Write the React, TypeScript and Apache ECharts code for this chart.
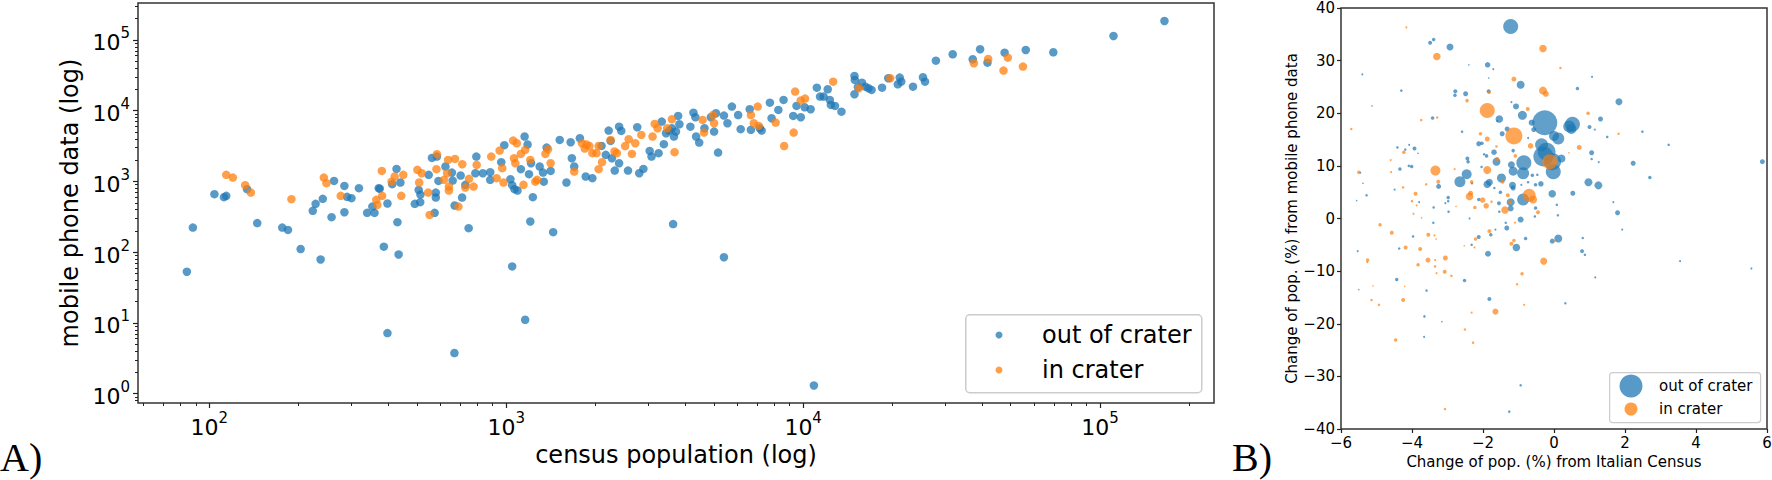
import React, { useEffect, useRef } from 'react';
import * as echarts from 'echarts';

const FONT = 'DejaVu Sans';
const BLUE = '#1f77b4';
const ORANGE = '#ff7f0e';
const LABEL_OUT = 'out of crater';
const LABEL_IN = 'in crater';

// Panel A: [census population, mobile phone data]
const aOut: number[][] = [
  [84, 53], [88, 223], [104, 662], [112, 600], [114, 627], [134, 778], [145, 258], [176, 223], [184, 207], [203, 111],
  [237, 79], [223, 385], [228, 483], [241, 568], [258, 313], [263, 1018], [285, 866], [285, 368], [291, 606], [301, 581],
  [319, 804], [340, 360], [354, 442], [360, 360], [372, 804], [375, 790], [387, 120], [398, 488], [398, 7.2], [413, 916],
  [427, 1507], [430, 266], [434, 93], [440, 966], [492, 483], [507, 760], [513, 510], [514, 653], [548, 1240], [579, 697],
  [579, 593], [574, 360], [591, 1018], [562, 2153], [584, 2249], [624, 1626], [656, 1336], [660, 1030], [670, 457], [669, 3.76],
  [702, 1213], [710, 593], [728, 896], [747, 219], [793, 2249], [787, 1309], [834, 1309], [883, 1353], [883, 1054], [962, 1875],
  [985, 3258], [1033, 1077], [1047, 887], [1047, 63], [1091, 745], [1066, 778], [1158, 11.1], [1153, 4315], [1180, 3327], [1193, 1268],
  [1205, 272], [1229, 600], [1120, 1493], [1212, 1811], [1296, 1626], [1330, 1336], [1338, 995], [1368, 3013], [1439, 192], [1411, 1412],
  [1514, 3872], [1595, 966], [1648, 3589], [1663, 2133], [1694, 1626], [1770, 4084], [1852, 1175], [1950, 1114],
  [2213, 5236], [2399, 5957], [2440, 5188], [2762, 5848], [2094, 3184], [2247, 3741], [2164, 2377], [2269, 2133], [2399, 1811], [2571, 1426],
  [2805, 1309], [2897, 1507], [3041, 2704], [3085, 2249], [3259, 2512], [3340, 7015], [3395, 3365], [3453, 4808], [3540, 5236], [3614, 5662],
  [3671, 4315], [3729, 5070], [3793, 8452], [3830, 6442], [4170, 5957], [4270, 9397], [4335, 8093], [4360, 4315], [4466, 3548], [4652, 5662],
  [5012, 5070], [4890, 8093], [5086, 9226], [5170, 2559], [5410, 8531], [5560, 6653], [5754, 11430], [6040, 8700], [6160, 5482], [6607, 10500],
  [6668, 5370], [7145, 5662], [7250, 5236], [7726, 13000], [7830, 7834], [8250, 10260], [8590, 14220], [9260, 8452], [9500, 11700], [9820, 8093],
  [10120, 11190], [10600, 10500], [11120, 21200], [11400, 15850], [11720, 15850], [12100, 20100], [12300, 14220], [12400, 12080], [12800, 11700], [13460, 9710],
  [14890, 31000], [14930, 27230], [14890, 17100], [15290, 21480], [15780, 24950], [16200, 21880], [16600, 20800], [17000, 19680], [18440, 21200], [19350, 28770],
  [21150, 29380], [20840, 23660], [21400, 25760], [23440, 21880], [25330, 29720], [25730, 25760], [28000, 51050], [31900, 62800], [37250, 53350], [39450, 73950],
  [41770, 47750], [47700, 66200], [56200, 72230], [69600, 67000], [111000, 113900], [164800, 185500], [3648, 250], [5410, 85], [10870, 1.31], [2320, 1426],
];

const aIn: number[][] = [
  [114, 1240], [120, 1135], [132, 887], [138, 697], [189, 562], [243, 1135], [248, 946], [277, 627], [381, 1412], [382, 627],
  [368, 467], [365, 550], [421, 1175], [411, 995], [443, 627], [450, 1240], [502, 1459], [509, 966], [519, 1309], [546, 697],
  [552, 337], [582, 1493], [584, 2430], [617, 1054], [637, 2018], [641, 847], [641, 745], [632, 1309], [672, 2083], [690, 442],
  [711, 1754], [728, 820], [749, 1089], [776, 847], [795, 1714], [890, 2249], [928, 1114], [950, 2735], [969, 1542], [979, 966],
  [1062, 2133], [1055, 3784], [1085, 3475], [1073, 1811], [1120, 2455], [1143, 896], [1158, 2793], [1205, 2018], [1253, 995], [1270, 1054],
  [1355, 2455], [1383, 2858], [1411, 1811], [1694, 1380], [1799, 3475], [1838, 2913], [1905, 3170], [1950, 2512],
  [1863, 3327], [2013, 2512], [2047, 3170], [2102, 1875], [2047, 1493], [2247, 3872], [2358, 2512], [2515, 3170], [2584, 3954], [2650, 2455],
  [2720, 3475], [2851, 4550], [2315, 2660],
  [3162, 6510], [3235, 5662], [3483, 5662], [3614, 7586], [3689, 2594], [3110, 4315], [4585, 7413], [4635, 4910], [4970, 8700], [5012, 6653],
  [6670, 8700], [6820, 6653], [7030, 11430], [7085, 6095], [8080, 6792], [8630, 3170], [9290, 4910], [9400, 18620], [9810, 13900], [10150, 14830],
  [12620, 25760], [15400, 20800], [19650, 28770], [37600, 46900], [42000, 53950], [47300, 36900], [48900, 56200], [55000, 42000],
];

// Panel B: [change from census %, change from phone data %, population weight]
const bOut: number[][] = [
  [-1.22, 36.5, 22500], [-2.93, 32.6, 4900], [-3.49, 33.4, 1600], [-3.39, 34.0, 1225], [-1.87, 29.2, 3025], [-2.40, 29.2, 225],
  [-1.71, 28.4, 400], [-5.40, 27.4, 400], [-1.84, 26.7, 225], [-0.94, 25.4, 6400], [1.07, 26.9, 400], [-2.78, 24.2, 1600],
  [-2.49, 23.7, 2500], [-2.79, 23.4, 1225], [-1.84, 24.2, 1600], [-4.30, 24.3, 625], [0.66, 24.7, 1225], [1.83, 22.2, 4900],
  [-6.0, 22.3, 225], [-5.13, 21.4, 225], [-1.20, 22.1, 400], [-1.07, 21.3, 3600], [-0.89, 19.6, 8100], [-1.54, 18.9, 5625],
  [-1.60, 18.5, 400], [-3.42, 19.1, 1225], [-0.26, 18.2, 62500], [0.52, 17.9, 22500], [0.43, 17.5, 14400], [0.49, 17.0, 10000],
  [1.31, 18.9, 2500], [1.0, 17.4, 1600], [1.15, 16.9, 400], [2.49, 16.5, 625], [-0.63, 18.2, 3600], [-1.32, 17.0, 2500],
  [-0.57, 16.9, 2500], [-2.59, 16.5, 625], [-1.46, 16.1, 2500], [0.0, 15.7, 10000], [0.12, 15.2, 14400], [1.50, 15.5, 625],
  [-0.73, 15.3, 400], [-4.41, 13.5, 625], [-4.19, 13.1, 625], [-4.08, 14.0, 400], [-3.93, 13.3, 1600], [-3.83, 12.4, 225],
  [-2.12, 14.2, 2500], [-2.03, 14.3, 1225], [-1.69, 12.6, 3025], [-1.15, 12.9, 1225], [-0.35, 14.0, 16900], [-0.21, 12.7, 32400],
  [-0.30, 11.8, 40000], [-0.04, 10.8, 28900], [-0.02, 8.9, 22500], [0.21, 11.4, 6400], [1.06, 12.5, 2500], [1.26, 10.7, 400],
  [1.06, 11.3, 625], [3.23, 14.0, 625], [5.87, 10.8, 2500], [2.23, 10.5, 2500], [2.70, 7.8, 1225], [-0.85, 10.6, 22500],
  [-1.20, 10.2, 4900], [-1.62, 10.8, 6400], [-1.90, 11.9, 1225], [-1.97, 12.2, 625], [-2.44, 11.4, 1600], [-2.42, 10.8, 1225],
  [-2.04, 9.8, 625], [-2.46, 8.4, 10000], [-2.65, 7.0, 12100], [-1.48, 7.7, 8100], [-1.15, 9.0, 8100], [-0.87, 8.6, 14400],
  [-1.17, 6.3, 4900], [-1.15, 5.8, 2500], [-0.61, 8.2, 1225], [-0.47, 8.3, 625], [-0.73, 6.9, 625], [-0.92, 6.4, 400],
  [-0.37, 6.6, 3025], [-0.52, 6.4, 1225], [0.97, 6.9, 6400], [1.25, 6.3, 6400], [-1.88, 6.5, 5625], [-1.82, 6.9, 4900],
  [-2.31, 6.7, 625], [-1.68, 5.8, 625], [-3.25, 6.1, 2500], [-0.05, 4.7, 5625], [0.53, 4.8, 2500], [-1.51, 5.0, 1225],
  [-0.87, 3.6, 14400], [-1.22, 3.1, 6400], [-1.22, 1.9, 3600], [-1.55, 2.9, 1600], [-2.12, 3.6, 1225], [-2.98, 4.0, 1225],
  [-2.98, 3.3, 625], [-3.06, 2.9, 400], [-3.80, 3.1, 400], [-3.39, 2.1, 625], [-2.97, 1.3, 625], [-1.54, 1.3, 625],
  [-0.52, 2.0, 1225], [0.08, 2.6, 625], [0.11, 0.6, 625], [-0.54, 0.4, 625], [-0.94, -0.2, 3600], [-1.36, -0.8, 625],
  [-1.33, -1.8, 2500], [-2.38, 0.0, 400], [-3.40, -0.8, 625], [-3.97, -3.4, 625], [1.79, 1.1, 2500], [1.67, 3.1, 400],
  [1.92, -2.1, 400], [-2.12, -3.5, 1600], [-1.78, -3.1, 1225], [-1.65, -2.1, 400], [-0.80, -3.8, 1225], [-0.05, -4.3, 2500],
  [0.12, -3.8, 6400], [-1.06, -5.5, 5625], [-2.32, -5.0, 625], [-4.36, -5.7, 625], [0.81, -3.7, 625], [0.79, -6.2, 1600],
  [0.87, -6.9, 625], [-1.86, -6.7, 3600], [-5.53, -6.2, 400], [-6.0, -4.7, 225], [3.55, -8.1, 400], [5.56, -9.5, 400],
  [1.16, -11.2, 400], [-4.43, -11.6, 1225], [-2.52, -11.8, 1225], [-5.50, -13.5, 225], [-3.59, -13.7, 625], [-1.82, -15.3, 1600],
  [0.32, -16.1, 625], [-3.65, -18.6, 625], [-3.16, -19.6, 225], [-3.66, -22.5, 400], [-0.94, -31.7, 625], [-1.26, -36.7, 625],
  [-6.0, 4.7, 225], [-5.28, 4.4, 625], [-5.38, 6.7, 225], [-5.46, 8.7, 400], [-4.49, 5.5, 400], [-4.34, 9.4, 1225],
  [-4.01, 9.9, 1225], [-4.09, 10.0, 625], [-5.56, 3.4, 225],
];

const bIn: number[][] = [
  [-4.16, 36.3, 400], [-3.30, 30.8, 5625], [-0.31, 32.3, 5625], [0.18, 28.6, 625], [-1.13, 26.5, 2500], [-0.31, 24.3, 6400],
  [-0.23, 23.7, 3600], [-1.83, 24.0, 1225], [-2.45, 22.4, 1225], [-1.88, 20.5, 22500], [-0.74, 20.8, 1600], [0.96, 20.0, 1225],
  [-3.74, 18.7, 625], [-3.29, 19.2, 625], [-5.71, 17.0, 625], [-1.13, 15.7, 28900], [-2.07, 16.1, 1225], [-1.88, 15.1, 2500],
  [1.82, 16.1, 625], [-0.66, 13.8, 3025], [-1.62, 13.7, 625], [0.71, 13.5, 2500], [0.42, 12.5, 225], [-4.23, 12.6, 1225],
  [-1.60, 11.3, 1600], [-1.09, 11.9, 1225], [-0.12, 10.8, 22500], [-4.60, 11.1, 400], [-5.50, 8.8, 1225], [-4.59, 8.8, 400],
  [-3.34, 9.1, 10000], [-1.88, 9.2, 6400], [-2.80, 9.4, 400], [-3.26, 7.0, 1600], [-2.32, 7.0, 1225], [-1.45, 7.0, 1600],
  [-3.60, 6.5, 625], [-4.25, 5.9, 625], [-3.90, 4.7, 1600], [-2.35, 4.8, 2500], [-2.38, 4.2, 5625], [-1.30, 4.4, 1600],
  [-0.70, 4.4, 16900], [-0.59, 3.6, 6400], [-2.01, 3.5, 3025], [-1.76, 3.2, 625], [-1.24, 3.1, 1600], [-4.00, 3.3, 625],
  [-3.87, 2.5, 400], [-2.76, 2.3, 225], [-2.23, 2.1, 1225], [-1.91, 2.4, 3025], [-1.38, 1.6, 5625], [-0.45, 1.2, 1600],
  [-3.96, 0.9, 400], [-3.73, 0.1, 225], [-1.10, -0.8, 400], [-4.90, -1.2, 1225], [-4.57, -2.7, 1600], [-3.54, -3.1, 1600],
  [-3.37, -3.2, 400], [-3.32, -3.9, 225], [-1.82, -2.4, 1600], [-2.21, -3.9, 1225], [-2.24, -5.5, 400], [-1.13, -4.2, 1225],
  [-1.20, -4.8, 1600], [0.0, -4.3, 400], [-2.53, -5.2, 225], [-4.18, -5.5, 1600], [-3.77, -5.8, 1600], [-3.06, -7.5, 2500],
  [-3.55, -7.9, 2500], [-3.35, -7.9, 400], [-0.29, -8.1, 4900], [-5.25, -7.9, 1225], [-5.26, -8.3, 400], [-3.83, -8.8, 1225],
  [-3.35, -9.1, 625], [-3.08, -10.1, 1600], [-3.31, -10.4, 400], [-2.89, -10.9, 625], [-0.90, -10.5, 1225], [-1.04, -12.5, 625],
  [-5.10, -12.8, 225], [-4.21, -12.9, 225], [-5.14, -15.5, 625], [-4.25, -15.5, 1600], [-4.93, -16.4, 625], [-0.84, -16.4, 400],
  [-1.65, -17.7, 3600], [-2.32, -17.9, 400], [-2.51, -21.1, 625], [-2.28, -23.6, 625], [-4.46, -23.1, 1225], [-3.07, -36.2, 625],
];

// Axis ticks
const aXMajor = [100, 1000, 10000, 100000];
const aYMajor = [1, 10, 100, 1000, 10000, 100000];
const aXRange = [57.5, 242000];
const aYRange = [0.74, 333000];
const bXRange = [-6, 6];
const bYRange = [-40, 40];

function minorTicks(lo: number, hi: number): number[] {
  const out: number[] = [];
  for (let d = 0.01; d <= 1e6; d *= 10) {
    for (let m = 2; m <= 9; m++) {
      const v = Math.round(d * m * 1000) / 1000;
      if (v > lo && v < hi) out.push(v);
    }
  }
  return out;
}

const pow10Label = (v: number) => {
  const e = Math.round(Math.log10(v));
  return `{b|10}{s|${e}}`;
};
const minusLabel = (v: number) => (v < 0 ? '\u2212' + Math.abs(v) : String(v));

const richA = {
  b: { fontSize: 22, fontFamily: FONT, color: '#000', lineHeight: 28, verticalAlign: 'bottom' },
  s: { fontSize: 15, fontFamily: FONT, color: '#000', lineHeight: 15, verticalAlign: 'top' },
};

const tickLine = { color: '#222', width: 1.2 };
const noLine = { show: false, onZero: false };

export default function App() {
  const ref = useRef<HTMLDivElement>(null);
  useEffect(() => {
    if (!ref.current) return;
    const chart = echarts.init(ref.current, null, { renderer: 'svg' });
    const option: any = {
      animation: false,
      backgroundColor: '#ffffff',
      grid: [
        { left: 138, top: 3, width: 1076, height: 400, show: true, borderColor: '#333', borderWidth: 1.5, backgroundColor: 'transparent', containLabel: false, outerBoundsMode: 'none' },
        { left: 1341, top: 8, width: 426, height: 421, show: true, borderColor: '#333', borderWidth: 1.5, backgroundColor: 'transparent', containLabel: false, outerBoundsMode: 'none' },
      ],
      xAxis: [
        {
          gridIndex: 0, type: 'log', logBase: 10, min: aXRange[0], max: aXRange[1], position: 'bottom',
          axisLine: noLine, splitLine: { show: false },
          axisTick: { show: true, length: 5, lineStyle: tickLine, customValues: aXMajor },
          axisLabel: { show: true, margin: 7, customValues: aXMajor, formatter: pow10Label, rich: richA },
          name: 'census population (log)', nameLocation: 'middle', nameGap: 40,
          nameTextStyle: { fontFamily: FONT, fontSize: 24, color: '#000' },
        },
        {
          gridIndex: 0, type: 'log', logBase: 10, min: aXRange[0], max: aXRange[1], position: 'bottom',
          axisLine: noLine, splitLine: { show: false }, axisLabel: { show: false },
          axisTick: { show: true, length: 3, lineStyle: { color: '#222', width: 1 }, customValues: minorTicks(aXRange[0], aXRange[1]) },
        },
        {
          gridIndex: 1, type: 'value', min: bXRange[0], max: bXRange[1], interval: 2, position: 'bottom',
          axisLine: noLine, splitLine: { show: false },
          axisTick: { show: true, length: 4, lineStyle: tickLine },
          axisLabel: { margin: 6, formatter: minusLabel, fontFamily: FONT, fontSize: 15, color: '#000' },
          name: 'Change of pop. (%) from Italian Census', nameLocation: 'middle', nameGap: 22,
          nameTextStyle: { fontFamily: FONT, fontSize: 15, color: '#000' },
        },
      ],
      yAxis: [
        {
          gridIndex: 0, type: 'log', logBase: 10, min: aYRange[0], max: aYRange[1], position: 'left',
          axisLine: noLine, splitLine: { show: false },
          axisTick: { show: true, length: 5, lineStyle: tickLine, customValues: aYMajor },
          axisLabel: { show: true, margin: 8, customValues: aYMajor, formatter: pow10Label, rich: richA },
          name: 'mobile phone data (log)', nameLocation: 'middle', nameGap: 54, nameRotate: 90,
          nameTextStyle: { fontFamily: FONT, fontSize: 24, color: '#000' },
        },
        {
          gridIndex: 0, type: 'log', logBase: 10, min: aYRange[0], max: aYRange[1], position: 'left',
          axisLine: noLine, splitLine: { show: false }, axisLabel: { show: false },
          axisTick: { show: true, length: 3, lineStyle: { color: '#222', width: 1 }, customValues: minorTicks(aYRange[0], aYRange[1]) },
        },
        {
          gridIndex: 1, type: 'value', min: bYRange[0], max: bYRange[1], interval: 10, position: 'left',
          axisLine: noLine, splitLine: { show: false },
          axisTick: { show: true, length: 4, lineStyle: tickLine },
          axisLabel: { margin: 6, formatter: minusLabel, fontFamily: FONT, fontSize: 15, lineHeight: 14, color: '#000' },
          name: 'Change of pop. (%) from mobile phone data', nameLocation: 'middle', nameGap: 40, nameRotate: 90,
          nameTextStyle: { fontFamily: FONT, fontSize: 15, color: '#000' },
        },
      ],
      legend: [
        {
          data: [LABEL_OUT, LABEL_IN], orient: 'vertical', left: 995.5, top: 321,
          padding: 0, itemGap: 7, itemWidth: 7, itemHeight: 7, icon: 'circle',
          textStyle: { fontFamily: FONT, fontSize: 24, color: '#000', lineHeight: 28, padding: [0, 0, 0, 34.5] },
          selectedMode: false,
        },
        {
          data: [LABEL_OUT], orient: 'vertical', left: 1619.5, top: 374.5, padding: 0,
          itemWidth: 23, itemHeight: 23, icon: 'circle',
          textStyle: { fontFamily: FONT, fontSize: 15, color: '#000', padding: [0, 0, 0, 11.5] },
          selectedMode: false,
        },
        {
          data: [LABEL_IN], orient: 'vertical', left: 1624.5, top: 401.5, padding: 0,
          itemWidth: 13, itemHeight: 13, icon: 'circle',
          textStyle: { fontFamily: FONT, fontSize: 15, color: '#000', padding: [0, 0, 0, 16.5] },
          selectedMode: false,
        },
      ],
      graphic: [
        { type: 'rect', left: 965, top: 314, shape: { width: 236, height: 78, r: 4 }, style: { fill: 'rgba(255,255,255,0.8)', stroke: '#cccccc', lineWidth: 1.5 }, z: 1 },
        { type: 'rect', left: 1609, top: 372, shape: { width: 151, height: 50, r: 3 }, style: { fill: 'rgba(255,255,255,0.8)', stroke: '#cccccc', lineWidth: 1.2 }, z: 1 },
        { type: 'text', left: 0, top: 437, style: { text: 'A)', font: '40px "Liberation Serif"', lineHeight: 40, fill: '#000' } },
        { type: 'text', left: 1232, top: 437, style: { text: 'B)', font: '40px "Liberation Serif"', lineHeight: 40, fill: '#000' } },
      ],
      series: [
        {
          name: LABEL_OUT, type: 'scatter', xAxisIndex: 0, yAxisIndex: 0, data: aOut, symbolSize: 8.5,
          itemStyle: { color: BLUE, opacity: 0.75 },
        },
        {
          name: LABEL_IN, type: 'scatter', xAxisIndex: 0, yAxisIndex: 0, data: aIn, symbolSize: 8.5,
          itemStyle: { color: ORANGE, opacity: 0.75 },
        },
        {
          name: LABEL_OUT, type: 'scatter', xAxisIndex: 2, yAxisIndex: 2, data: bOut,
          symbolSize: (v: number[]) => Math.sqrt(v[2]) / 10,
          itemStyle: { color: BLUE, opacity: 0.7 },
        },
        {
          name: LABEL_IN, type: 'scatter', xAxisIndex: 2, yAxisIndex: 2, data: bIn,
          symbolSize: (v: number[]) => Math.sqrt(v[2]) / 10,
          itemStyle: { color: ORANGE, opacity: 0.7 },
        },
      ],
    };
    chart.setOption(option);
    return () => chart.dispose();
  }, []);
  return (
    <div
      ref={ref}
      style={{ position: 'fixed', left: 0, top: 0, width: 1772, height: 480, background: '#fff' }}
    />
  );
}
